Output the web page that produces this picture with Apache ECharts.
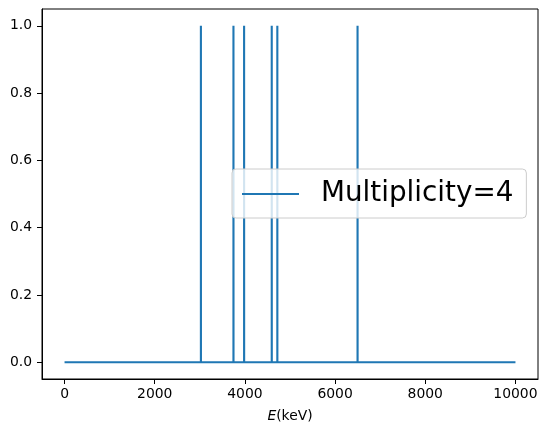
<!DOCTYPE html>
<html>
<head>
<meta charset="utf-8">
<script src="https://cdn.jsdelivr.net/npm/echarts@6/dist/echarts.min.js"></script>
<style>
html,body{margin:0;padding:0;background:#fff;}
#c{width:547px;height:434px;}
</style>
</head>
<body>
<div id="c"></div>
<script>
// Data
var seriesName = 'Multiplicity=4';
var energyStart = 0;
var energyEnd = 10000;
var peakEnergies = [3024, 3746, 3982, 4595, 4719, 6498];
var peakHeights = [1, 1, 1, 1, 1, 1];
var peakWidth = 1; // keV bin width
var xTicks = [0, 2000, 4000, 6000, 8000, 10000];
var yTicks = [0, 0.2, 0.4, 0.6, 0.8, 1.0];

// Build spectrum as (energy, count) points
var spectrum = [[energyStart, 0]];
for (var i = 0; i < peakEnergies.length; i++) {
  spectrum.push([peakEnergies[i], 0]);
  spectrum.push([peakEnergies[i], peakHeights[i]]);
  spectrum.push([peakEnergies[i] + peakWidth, peakHeights[i]]);
  spectrum.push([peakEnergies[i] + peakWidth, 0]);
}
spectrum.push([energyEnd, 0]);

var FONT = 'DejaVu Sans';
var chart = echarts.init(document.getElementById('c'), null, {renderer: 'canvas'});
chart.setOption({
  animation: false,
  backgroundColor: '#fff',
  textStyle: {fontFamily: FONT},
  grid: {left: 42, right: 9, top: 9, bottom: 55, show: true, borderColor: '#000', borderWidth: 1, backgroundColor: 'transparent'},
  xAxis: {
    type: 'value', min: -500, max: 10500,
    splitLine: {show: false},
    axisLine: {show: true, onZero: false, lineStyle: {color: '#000', width: 1}},
    axisTick: {show: true, inside: false, length: 5, lineStyle: {color: '#000'}, customValues: xTicks},
    axisLabel: {color: '#000', fontSize: 13.9, fontFamily: FONT, margin: 8, customValues: xTicks,
      formatter: function (v) { return String(v); }},
    name: '{i|E}(keV)',
    nameLocation: 'middle', nameGap: 30,
    nameTextStyle: {color: '#000', fontSize: 13.9, fontFamily: FONT,
      rich: {i: {fontStyle: 'italic', fontSize: 13.9, fontFamily: FONT, color: '#000'}}}
  },
  yAxis: {
    type: 'value', min: -0.05, max: 1.05,
    splitLine: {show: false},
    axisLine: {show: true, onZero: false, lineStyle: {color: '#000', width: 1}},
    axisTick: {show: true, inside: false, length: 5, lineStyle: {color: '#000'}, customValues: yTicks},
    axisLabel: {color: '#000', fontSize: 13.9, fontFamily: FONT, margin: 10, customValues: yTicks,
      formatter: function (v) { return v.toFixed(1); }}
  },
  legend: {
    show: true,
    data: [{name: seriesName, icon: 'rect'}],
    left: 232, top: 169,
    padding: [11, 13, 10, 10],
    itemWidth: 57, itemHeight: 2,
    itemStyle: {color: '#1f77b4'},
    backgroundColor: 'rgba(255,255,255,0.8)',
    borderColor: '#cccccc', borderWidth: 1, borderRadius: 4,
    textStyle: {color: '#000', fontSize: 27.8, fontFamily: FONT, padding: [0, 0, 0, 17]}
  },
  series: [{
    name: seriesName,
    type: 'line',
    data: spectrum,
    symbol: 'none',
    showSymbol: false,
    lineStyle: {color: '#1f77b4', width: 2.1},
    itemStyle: {color: '#1f77b4'},
    z: 1
  }]
});
</script>
</body>
</html>
